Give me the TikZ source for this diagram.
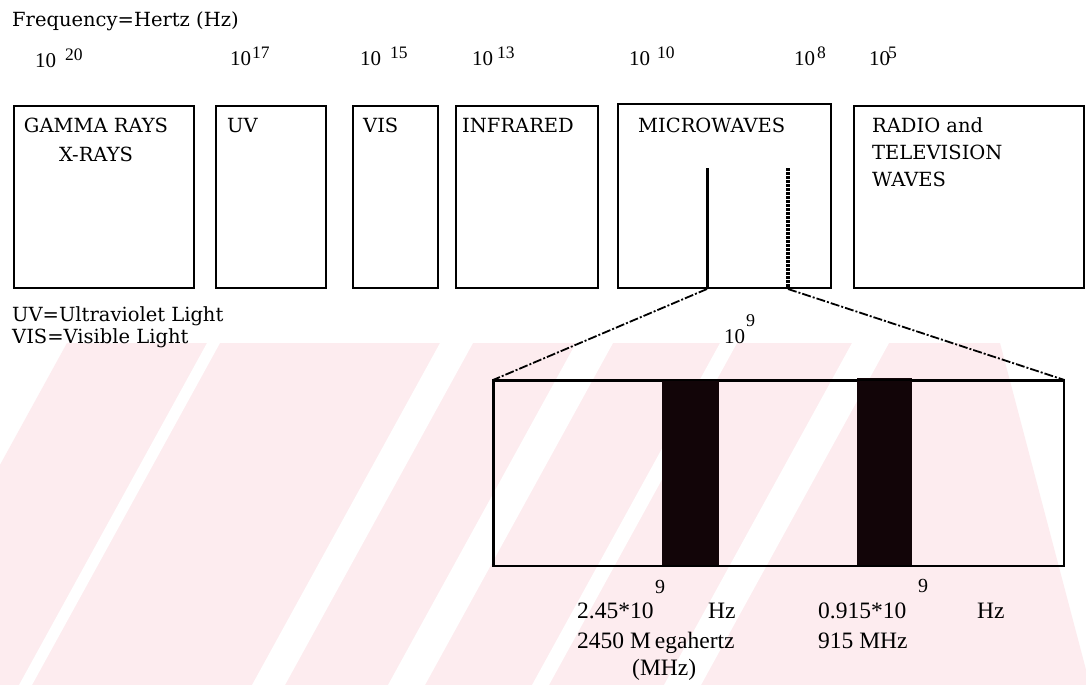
\documentclass[tikz,border=0pt]{standalone}
\usepackage{fontspec}
\setmainfont{DejaVu Serif}
\newfontfamily\tnr{Liberation Serif}
\newcommand{\boxfont}{\fontsize{19.5}{29}\selectfont}
\newcommand{\numfont}{\tnr\fontsize{21}{21}\selectfont}
\newcommand{\supfont}{\tnr\fontsize{17.5}{17.5}\selectfont}
\newcommand{\pw}[2]{10\hspace{#1pt}\raisebox{7pt}{\supfont #2}}
\definecolor{wmpink}{RGB}{253,236,239}
\definecolor{barblack}{RGB}{18,5,8}
\begin{document}
\begin{tikzpicture}[x=1pt,y=-1pt,
  specbox/.style={draw=black, line width=1.5pt, rectangle, inner sep=0pt, anchor=north west},
  lbl/.style={inner sep=0pt, anchor=north west, align=left, font=\boxfont},
  pwr/.style={inner sep=0pt, anchor=base west, font=\numfont},
  btm/.style={inner sep=0pt, anchor=base west, font=\tnr\fontsize{23.5}{23.5}\selectfont},
  btmsup/.style={inner sep=0pt, anchor=base west, font=\tnr\fontsize{20}{20}\selectfont},
  band/.style={fill=barblack, draw=none, inner sep=0pt, anchor=north west},
  zoomline/.style={line width=1.8pt, dash pattern=on 9pt off 2pt on 2pt off 2pt}
]
\useasboundingbox (0,0) rectangle (1086,685);
\fill[white] (0,0) rectangle (1086,685);

% faint watermark
\begin{scope}
\clip (67,343) -- (1000,343) -- (1090,685) -- (-121,685) -- cycle;
\fill[wmpink] (-200,343) rectangle (1200,685);
\foreach \a/\b in {207/220, 440/473, 576/613, 720/737, 852/889}{
  \fill[white] (\a,343) -- (\b,343) -- (\b-188,685) -- (\a-188,685) -- cycle;
}
\end{scope}

% header
\node[inner sep=0pt, anchor=base west, font=\fontsize{19.5}{20}\selectfont] (freq) at (12,27) {Frequency=Hertz (Hz)};

% powers of ten
\node[pwr] (p20) at (35,67) {\pw{9}{20}};
\node[pwr] (p17) at (230,66) {\pw{1}{17}};
\node[pwr] (p15) at (360,66) {\pw{9}{15}};
\node[pwr] (p13) at (472,66) {\pw{4}{13}};
\node[pwr] (p10) at (629,66) {\pw{7}{10}};
\node[pwr] (p8) at (794,66) {\pw{2}{8}};
\node[pwr] (p5) at (869,66) {\pw{-2}{5}};

% spectrum boxes
\node[specbox, minimum width=180, minimum height=182] (gamma) at (13,105) {};
\node[specbox, minimum width=110, minimum height=182] (uv) at (215,105) {};
\node[specbox, minimum width=85, minimum height=182] (vis) at (352,105) {};
\node[specbox, minimum width=142, minimum height=182] (ir) at (455,105) {};
\node[specbox, minimum width=213, minimum height=184] (mw) at (617,103) {};
\node[specbox, minimum width=230, minimum height=182] (radio) at (853,105) {};

% box labels
\node[inner sep=0pt, anchor=north, align=center, font=\boxfont] (gammat) at (96,118) {GAMMA RAYS\\X-RAYS};
\node[lbl] (uvt) at (227,118) {UV};
\node[lbl] (vist) at (363,118) {VIS};
\node[lbl] (irt) at (462,118) {INFRARED};
\node[lbl] (mwt) at (638,118) {MICROWAVES};
\node[lbl, font=\fontsize{19.5}{27}\selectfont] (radiot) at (872,117) {RADIO and\\TELEVISION\\WAVES};

% legend
\node[inner sep=0pt, anchor=base west, align=left, font=\fontsize{19.5}{22}\selectfont] (legend) at (12,343) {UV=Ultraviolet Light\\VIS=Visible Light};

% markers inside microwave box
\coordinate (atop) at (707,168);
\coordinate (abot) at (707,289);
\coordinate (btop) at (788,168);
\coordinate (bbot) at (788,289);
\draw[line width=3pt] (atop) -- (abot);
\draw[line width=4.5pt, dash pattern=on 3pt off 1pt] (btop) -- (bbot);

% expanded band
\node[specbox, minimum width=570, minimum height=185] (big) at (493,380) {};
\node[band, minimum width=57, minimum height=185] (bar1) at (662,380) {};
\node[band, minimum width=55, minimum height=187] (bar2) at (857,378) {};
\draw[specbox] (big.north west) rectangle (big.south east);

\draw[zoomline] (abot) -- (big.north west);
\draw[zoomline] (bbot) -- (big.north east);

\node[pwr, font=\tnr\fontsize{21}{21}\selectfont] (p9) at (724,343) {10\hspace{1pt}\raisebox{17pt}{\tnr\fontsize{18}{18}\selectfont 9}};

% bottom labels
\node[btmsup] (s1) at (655,593) {9};
\node[btm] (f1) at (577,618) {2.45*10};
\node[btm] (hz1) at (708,618) {Hz};
\node[btm] (m1) at (577,648) {2450 M\kern4pt egahertz};
\node[btm] (m1b) at (632,675) {(MHz)};

\node[btmsup] (s2) at (918,592) {9};
\node[btm] (f2) at (818,618) {0.915*10};
\node[btm] (hz2) at (977,618) {Hz};
\node[btm] (m2) at (818,648) {915 MHz};
\end{tikzpicture}
\end{document}
